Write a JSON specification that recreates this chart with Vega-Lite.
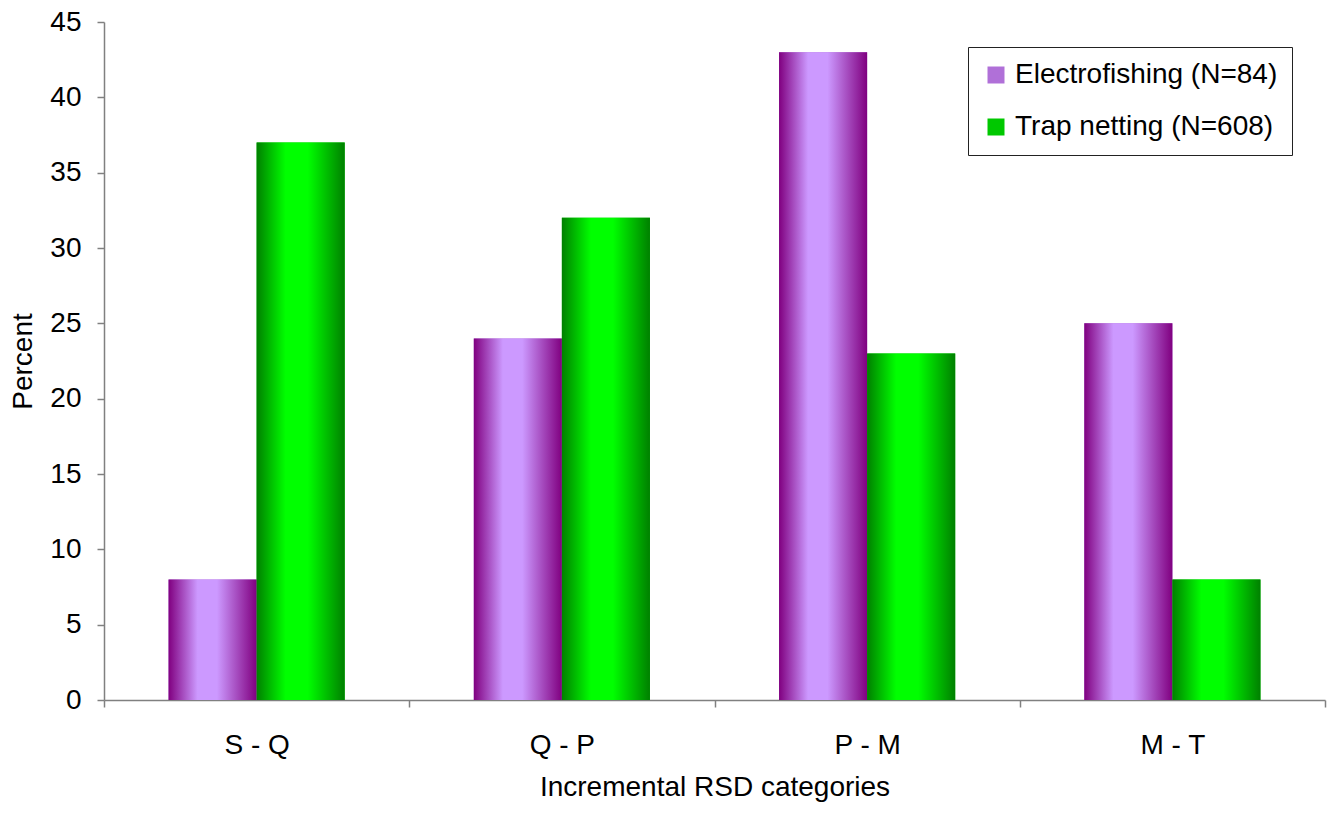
{
  "$schema": "https://vega.github.io/schema/vega-lite/v6.json",
  "width": 1221,
  "height": 678,
  "autosize": {"type": "none"},
  "padding": {"left": 104, "top": 22, "right": 6, "bottom": 113},
  "background": "white",
  "config": {
    "view": {"stroke": null},
    "font": "Liberation Sans",
    "axis": {"grid": false, "domainColor": "#808080", "tickColor": "#808080", "domainWidth": 1.5, "tickWidth": 1.5, "labelColor": "black", "titleColor": "black", "labelFontSize": 28, "titleFontSize": 28, "titleFontWeight": "normal", "labelFont": "Liberation Sans", "titleFont": "Liberation Sans"}
  },
  "data": {
    "values": [
      {"category": "S - Q", "method": "Electrofishing (N=84)", "percent": 8},
      {"category": "S - Q", "method": "Trap netting (N=608)", "percent": 37},
      {"category": "Q - P", "method": "Electrofishing (N=84)", "percent": 24},
      {"category": "Q - P", "method": "Trap netting (N=608)", "percent": 32},
      {"category": "P - M", "method": "Electrofishing (N=84)", "percent": 43},
      {"category": "P - M", "method": "Trap netting (N=608)", "percent": 23},
      {"category": "M - T", "method": "Electrofishing (N=84)", "percent": 25},
      {"category": "M - T", "method": "Trap netting (N=608)", "percent": 8}
    ]
  },
  "encoding": {
    "x": {
      "field": "category", "type": "nominal", "sort": ["S - Q", "Q - P", "P - M", "M - T"],
      "scale": {"paddingInner": 0, "paddingOuter": 0},
      "axis": {"title": "Incremental RSD categories", "labelAngle": 0, "tickBand": "extent", "tickSize": 7, "labelPadding": 24, "titlePadding": 14}
    },
    "xOffset": {
      "field": "method", "type": "nominal",
      "scale": {"domain": ["Electrofishing (N=84)", "Trap netting (N=608)"], "paddingInner": 0, "paddingOuter": 0.733}
    },
    "y": {
      "field": "percent", "type": "quantitative",
      "scale": {"domain": [0, 45], "nice": false},
      "axis": {"title": "Percent", "values": [0, 5, 10, 15, 20, 25, 30, 35, 40, 45], "tickSize": 7, "labelPadding": 16, "titlePadding": 12}
    }
  },
  "layer": [
    {
      "mark": {"type": "bar", "strokeWidth": 0},
      "encoding": {
        "color": {
          "field": "method", "type": "nominal",
          "scale": {"domain": ["Electrofishing (N=84)", "Trap netting (N=608)"], "range": ["#b070d8", "#00c800"]},
          "legend": {
            "title": null, "orient": "none", "legendX": 864, "legendY": 25,
            "labelFontSize": 28, "labelFont": "Liberation Sans", "labelColor": "black",
            "symbolType": "square", "symbolSize": 289, "symbolStrokeWidth": 0, "symbolOpacity": 1,
            "rowPadding": 24, "padding": 14, "strokeColor": "#222222", "fillColor": "white",
            "labelOffset": 5, "labelLimit": 500
          }
        }
      }
    },
    {
      "transform": [{"filter": "datum.method === 'Electrofishing (N=84)'"}],
      "mark": {"type": "bar", "strokeWidth": 0, "color": {"gradient": "linear", "x1": 0, "y1": 0, "x2": 1, "y2": 0, "stops": [
        {"offset": 0, "color": "#800080"},
        {"offset": 0.33, "color": "#cc99ff"},
        {"offset": 0.55, "color": "#cc99ff"},
        {"offset": 1, "color": "#800080"}
      ]}}
    },
    {
      "transform": [{"filter": "datum.method === 'Trap netting (N=608)'"}],
      "mark": {"type": "bar", "strokeWidth": 0, "color": {"gradient": "linear", "x1": 0, "y1": 0, "x2": 1, "y2": 0, "stops": [
        {"offset": 0, "color": "#008000"},
        {"offset": 0.33, "color": "#00ff00"},
        {"offset": 0.58, "color": "#00ff00"},
        {"offset": 1, "color": "#008000"}
      ]}}
    }
  ]
}
